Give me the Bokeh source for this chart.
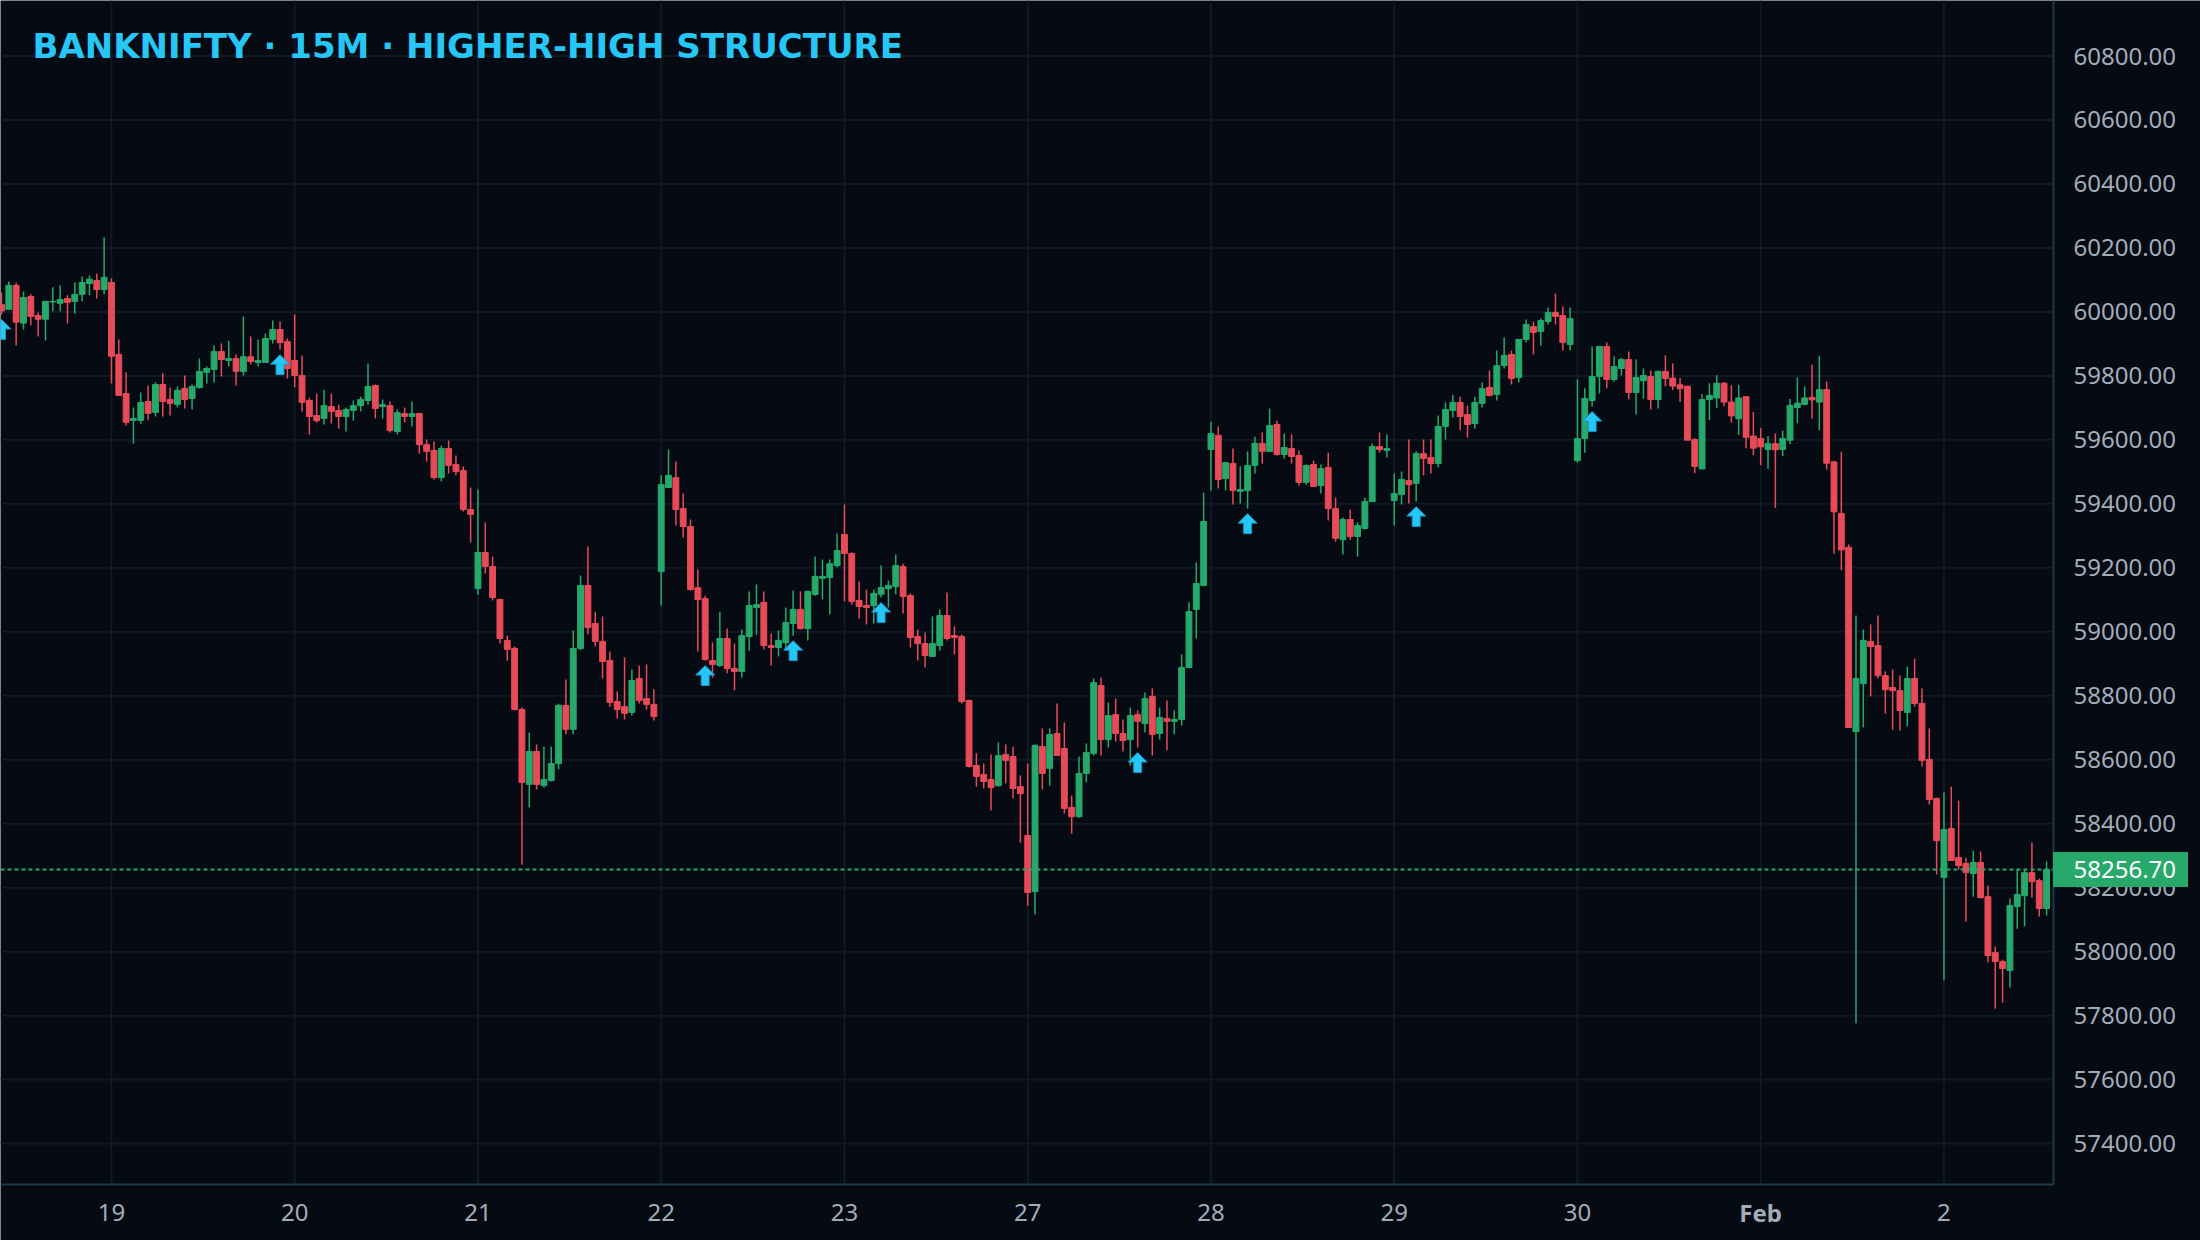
import numpy as np
from bokeh.plotting import figure
from bokeh.models import Range1d, Span, Label, ColumnDataSource
from bokeh.core.properties import value
from bokeh.embed import file_html
from bokeh.resources import INLINE

# ---------------- data ----------------
day_labels = ["19", "20", "21", "22", "23", "27", "28", "29", "30", "Feb", "2"]
day_start_bars = [15, 40, 65, 90, 115, 140, 165, 190, 215, 240, 265]
price_ticks = [57400, 57600, 57800, 58000, 58200, 58400, 58600, 58800, 59000,
               59200, 59400, 59600, 59800, 60000, 60200, 60400, 60600, 60800]
signal_bars = [0, 38, 96, 108, 120, 155, 170, 193, 217]
last_price = 58256.70
title_text = "BANKNIFTY · 15M · HIGHER-HIGH STRUCTURE"

opens = [60023, 60008, 60083, 59965, 60048, 59989, 59977, 60031, 60027, 60042, 60033, 60055, 60089, 60098, 60070,
         60092, 59867, 59745, 59661, 59661, 59720, 59686, 59773, 59726, 59711, 59761, 59729, 59764, 59811, 59820,
         59876, 59848, 59854, 59814, 59860, 59842, 59842, 59914, 59945, 59907,
         59848, 59801, 59723, 59676, 59667, 59704, 59692, 59673, 59692, 59707, 59723, 59770, 59704, 59707, 59626,
         59682, 59673, 59682, 59585, 59567, 59482, 59573, 59523, 59504, 59382,
         59135, 59248, 59204, 59101, 58973, 58948, 58757, 58523, 58626, 58519, 58535, 58588, 58770, 58695, 58948,
         59145, 59026, 58970, 58910, 58782, 58766, 58748, 58854, 58791, 58773,
         59188, 59451, 59482, 59385, 59329, 59138, 59104, 58910, 58895, 58979, 58885, 58876, 58985, 59076, 59092,
         58957, 58951, 58966, 59026, 59070, 59010, 59117, 59167, 59170, 59207,
         59304, 59245, 59098, 59082, 59082, 59117, 59135, 59141, 59204, 59113, 58985, 58963, 58923, 58957, 59051,
         58988, 58985, 58785, 58582, 58554, 58538, 58519, 58616, 58610, 58516,
         58363, 58188, 58641, 58573, 58682, 58635, 58451, 58422, 58557, 58620, 58832, 58663, 58741, 58682, 58663,
         58741, 58713, 58798, 58682, 58729, 58720, 58726, 58888, 59070, 59145,
         59570, 59614, 59479, 59526, 59439, 59442, 59520, 59589, 59564, 59648, 59554, 59573, 59551, 59467, 59523,
         59457, 59514, 59385, 59288, 59351, 59298, 59323, 59407, 59579, 59567,
         59410, 59429, 59473, 59464, 59557, 59545, 59526, 59642, 59692, 59717, 59679, 59651, 59714, 59764, 59742,
         59832, 59867, 59795, 59914, 59954, 59939, 59970, 59998, 59989, 59898,
         59535, 59604, 59723, 59798, 59892, 59789, 59823, 59851, 59748, 59785, 59798, 59726, 59814, 59793, 59772,
         59768, 59601, 59509, 59726, 59731, 59777, 59718, 59666, 59735, 59612,
         59604, 59570, 59588, 59570, 59599, 59701, 59711, 59733, 59718, 59757, 59531, 59370, 59264, 58688, 58838,
         58970, 58957, 58863, 58826, 58816, 58748, 58854, 58776, 58601, 58479,
         58232, 58385, 58294, 58276, 58244, 58279, 58172, 57997, 57969, 57941, 58141, 58175, 58247, 58222, 58135]

highs = [60061, 60095, 60092, 60064, 60055, 59998, 60033, 60077, 60083, 60052, 60092, 60111, 60114, 60120, 60233,
         60105, 59914, 59811, 59701, 59748, 59770, 59780, 59808, 59764, 59767, 59801, 59773, 59854, 59829, 59895,
         59901, 59910, 59867, 59986, 59923, 59914, 59932, 59973, 59970, 59917,
         59992, 59864, 59732, 59745, 59757, 59745, 59710, 59701, 59723, 59735, 59839, 59773, 59726, 59720, 59695,
         59701, 59720, 59685, 59601, 59595, 59582, 59598, 59551, 59517, 59451,
         59445, 59342, 59235, 59104, 58988, 58954, 58763, 58685, 58648, 58641, 58641, 58775, 58851, 59004, 59176,
         59267, 59063, 59048, 58938, 58813, 58920, 58882, 58895, 58898, 58820,
         59489, 59570, 59532, 59432, 59351, 59195, 59113, 58967, 59063, 59010, 58963, 59007, 59126, 59148, 59126,
         58995, 59004, 59076, 59129, 59126, 59129, 59235, 59226, 59226, 59307,
         59398, 59248, 59157, 59132, 59132, 59207, 59160, 59242, 59213, 59120, 59007, 58998, 59048, 59070, 59123,
         59017, 58991, 58788, 58620, 58588, 58616, 58654, 58648, 58641, 58551,
         58588, 58648, 58698, 58698, 58776, 58716, 58488, 58610, 58651, 58854, 58857, 58779, 58791, 58726, 58763,
         58754, 58810, 58823, 58763, 58785, 58754, 58929, 59092, 59217, 59435,
         59657, 59642, 59529, 59573, 59517, 59564, 59610, 59623, 59698, 59660, 59620, 59617, 59567, 59523, 59535,
         59523, 59560, 59420, 59357, 59382, 59342, 59420, 59589, 59623, 59617,
         59495, 59501, 59601, 59564, 59601, 59601, 59676, 59717, 59740, 59735, 59707, 59735, 59779, 59817, 59879,
         59920, 59879, 59914, 59976, 59970, 59979, 60014, 60057, 60017, 60014,
         59789, 59761, 59892, 59892, 59904, 59861, 59857, 59876, 59851, 59823, 59817, 59817, 59864, 59839, 59793,
         59768, 59605, 59743, 59777, 59802, 59781, 59771, 59772, 59735, 59687,
         59637, 59612, 59620, 59629, 59728, 59795, 59767, 59835, 59863, 59782, 59535, 59563, 59273, 59051, 59007,
         59023, 59051, 58876, 58882, 58863, 58891, 58916, 58823, 58698, 58482,
         58498, 58516, 58472, 58294, 58316, 58313, 58207, 58016, 57975, 58166, 58257, 58257, 58341, 58229, 58282]

lows = [59992, 60008, 59895, 59945, 59958, 59923, 59911, 60002, 60002, 59964, 59995, 60033, 60052, 60042, 60055,
        59776, 59739, 59645, 59589, 59651, 59661, 59673, 59673, 59676, 59701, 59698, 59695, 59760, 59776, 59779,
        59798, 59829, 59770, 59801, 59836, 59829, 59842, 59901, 59882, 59792,
        59764, 59689, 59617, 59654, 59648, 59651, 59635, 59626, 59660, 59689, 59710, 59667, 59667, 59623, 59617,
        59654, 59642, 59557, 59532, 59476, 59470, 59495, 59489, 59376, 59279,
        59116, 59182, 59098, 58963, 58910, 58754, 58272, 58451, 58507, 58513, 58532, 58570, 58680, 58680, 58942,
        58992, 58954, 58854, 58766, 58729, 58726, 58738, 58776, 58757, 58723,
        59082, 59451, 59332, 59295, 59129, 58938, 58910, 58857, 58891, 58870, 58817, 58857, 58941, 58991, 58945,
        58895, 58923, 58941, 58988, 59007, 58973, 59113, 59101, 59054, 59201,
        59095, 59085, 59041, 59023, 59026, 59107, 59076, 59117, 59057, 58951, 58910, 58888, 58923, 58941, 58973,
        58929, 58776, 58576, 58516, 58510, 58441, 58516, 58526, 58479, 58341,
        58144, 58116, 58507, 58519, 58613, 58432, 58369, 58419, 58529, 58613, 58613, 58638, 58657, 58626, 58582,
        58638, 58685, 58613, 58663, 58629, 58679, 58707, 58888, 58979, 59142,
        59442, 59448, 59442, 59398, 59401, 59385, 59495, 59526, 59564, 59551, 59542, 59526, 59457, 59460, 59454,
        59432, 59348, 59282, 59242, 59288, 59235, 59320, 59407, 59560, 59545,
        59332, 59398, 59401, 59407, 59489, 59495, 59514, 59601, 59670, 59630, 59607, 59635, 59701, 59736, 59723,
        59823, 59773, 59779, 59904, 59867, 59895, 59961, 59961, 59879, 59879,
        59529, 59560, 59704, 59745, 59761, 59782, 59801, 59726, 59679, 59729, 59695, 59698, 59767, 59756, 59718,
        59599, 59496, 59509, 59662, 59700, 59705, 59654, 59615, 59574, 59552,
        59521, 59510, 59387, 59549, 59587, 59652, 59708, 59666, 59630, 59507, 59244, 59193, 58701, 57776, 58701,
        58798, 58854, 58744, 58694, 58691, 58704, 58766, 58579, 58460, 58241,
        57910, 58285, 58257, 58094, 58172, 58166, 57966, 57822, 57841, 57888, 58072, 58079, 58169, 58110, 58113]

closes = [60003, 60083, 59968, 60045, 59986, 59977, 60033, 60033, 60039, 60030, 60055, 60092, 60102, 60070, 60108,
          59861, 59739, 59655, 59667, 59717, 59683, 59773, 59720, 59714, 59755, 59726, 59767, 59814, 59823, 59876,
          59851, 59854, 59814, 59860, 59845, 59848, 59917, 59945, 59904, 59823,
          59801, 59717, 59673, 59660, 59707, 59689, 59673, 59695, 59707, 59726, 59767, 59698, 59710, 59629, 59685,
          59673, 59682, 59585, 59564, 59482, 59573, 59520, 59501, 59382, 59367,
          59248, 59204, 59107, 58979, 58945, 58757, 58529, 58626, 58523, 58538, 58588, 58770, 58695, 58948, 59145,
          59013, 58970, 58907, 58779, 58757, 58745, 58848, 58785, 58773, 58735,
          59460, 59489, 59382, 59329, 59132, 59101, 58913, 58898, 58979, 58885, 58876, 58988, 59082, 59085, 58957,
          58951, 58973, 59029, 59070, 59010, 59126, 59173, 59173, 59213, 59254,
          59245, 59095, 59079, 59076, 59120, 59138, 59145, 59207, 59110, 58982, 58963, 58926, 58963, 59051, 58979,
          58982, 58782, 58579, 58548, 58532, 58513, 58613, 58598, 58510, 58494,
          58185, 58645, 58557, 58679, 58613, 58448, 58422, 58557, 58623, 58841, 58663, 58738, 58682, 58660, 58738,
          58720, 58791, 58679, 58732, 58720, 58726, 58888, 59063, 59151, 59345,
          59620, 59476, 59529, 59442, 59445, 59520, 59589, 59564, 59645, 59554, 59576, 59548, 59467, 59520, 59454,
          59510, 59385, 59292, 59351, 59298, 59332, 59407, 59579, 59570, 59573,
          59432, 59476, 59460, 59557, 59542, 59526, 59642, 59695, 59717, 59673, 59648, 59717, 59760, 59739, 59832,
          59864, 59792, 59914, 59961, 59936, 59973, 59998, 59986, 59904, 59979,
          59604, 59729, 59798, 59892, 59789, 59829, 59851, 59748, 59795, 59801, 59726, 59814, 59792, 59768, 59760,
          59599, 59517, 59726, 59739, 59777, 59718, 59675, 59731, 59608, 59574,
          59578, 59588, 59569, 59604, 59708, 59715, 59731, 59725, 59757, 59527, 59375, 59256, 58701, 58854, 58973,
          58954, 58863, 58819, 58816, 58754, 58854, 58776, 58598, 58476, 58347,
          58382, 58285, 58269, 58247, 58279, 58169, 57988, 57969, 57947, 58144, 58179, 58247, 58219, 58135, 58256.70]

# ---------------- geometry / style ----------------
W, H = 2200, 1240
PANE_R, PANE_B = 2053, 1184      # right / bottom edge of the price pane (pixels)
BAR0_PX, BAR_PX = 1.0, 7.33
PPX = 3400.0 / 1087.6            # price units per pixel
Y_TOP = 60800 + 55.5 * PPX


def px_x(px):
    return (px - BAR0_PX) / BAR_PX


def px_y(py):
    return Y_TOP - py * PPX


BG = "#060a13"
GRID = "#0f1a25"
BORDER = "#1b3b4b"
TXT = "#a3adba"
GREEN = "#26a96b"
RED = "#e84b58"
CYAN = "#26c6f6"
FONT = "Noto Sans"

p = figure(width=W, height=H, x_range=Range1d(px_x(0), px_x(W)), y_range=Range1d(px_y(H), px_y(0)),
           output_backend="svg", toolbar_location=None, x_axis_location=None, y_axis_location=None,
           min_border=0)
p.background_fill_color = BG
p.border_fill_color = BG
p.outline_line_color = None
p.grid.visible = False

pane_left, pane_right = px_x(0), px_x(PANE_R)
pane_top, pane_bottom = px_y(0), px_y(PANE_B)

# grid
p.segment(x0=[pane_left] * len(price_ticks), y0=price_ticks, x1=[pane_right] * len(price_ticks),
          y1=price_ticks, line_color=GRID, line_width=2)
p.segment(x0=day_start_bars, y0=[pane_top] * len(day_start_bars), x1=day_start_bars,
          y1=[pane_bottom] * len(day_start_bars), line_color=GRID, line_width=2)

# candles
o = np.array(opens, dtype=float)
h = np.array(highs, dtype=float)
l = np.array(lows, dtype=float)
c = np.array(closes, dtype=float)
xs = np.arange(len(o))
cols = [GREEN if cc >= oo else RED for oo, cc in zip(o, c)]
src = ColumnDataSource(dict(x=xs, o=o, h=h, l=l, c=c, top=np.maximum(o, c),
                            bottom=np.minimum(o, c), color=cols))
p.segment(x0="x", y0="h", x1="x", y1="l", source=src, line_color="color", line_width=1.5)
p.vbar(x="x", width=0.8, top="top", bottom="bottom", source=src, fill_color="color",
       line_color="color", line_width=1)

# last price line (inside the pane only)
p.segment(x0=[pane_left], y0=[last_price], x1=[pane_right], y1=[last_price],
          line_color=GREEN, line_dash="4 3", line_width=2)

# signal arrows (shape in pixels relative to tip, y downwards)
shape = [(0, 0), (9.5, 9.5), (4, 9.5), (4, 20), (-4, 20), (-4, 9.5), (-9.5, 9.5)]
axs, ays = [], []
for b in signal_bars:
    tip = l[b] - 5 * PPX
    axs.append([b + dx / BAR_PX for dx, dy in shape])
    ays.append([tip - dy * PPX for dx, dy in shape])
p.patches(axs, ays, fill_color=CYAN, line_color="#1a93c4", line_width=1)

# pane borders (price scale edge and time scale edge)
p.segment(x0=[pane_right, pane_left], y0=[pane_top, pane_bottom], x1=[pane_right, pane_right],
          y1=[pane_bottom, pane_bottom], line_color=BORDER, line_width=2)

# price scale labels
p.text(x=[px_x(PANE_R + 20)] * len(price_ticks), y=price_ticks,
       text=[f"{v:.2f}" for v in price_ticks], text_color=TXT, text_font=value(FONT),
       text_font_size="24px", text_baseline="middle", text_align="left")

# time scale labels (month names bold)
normal_days = [(b, t) for b, t in zip(day_start_bars, day_labels) if t.isdigit()]
month_days = [(b, t) for b, t in zip(day_start_bars, day_labels) if not t.isdigit()]
p.text(x=[b for b, t in normal_days], y=[px_y(1212)] * len(normal_days),
       text=[t for b, t in normal_days], text_color=TXT, text_font=value(FONT),
       text_font_size="24px", text_baseline="middle", text_align="center")
p.text(x=[b for b, t in month_days], y=[px_y(1212)] * len(month_days),
       text=[t for b, t in month_days], text_color=TXT, text_font=value(FONT),
       text_font_style="bold", text_font_size="24px", text_baseline="middle", text_align="center")

# last price tag
p.quad(left=[pane_right], right=[px_x(2187)], top=[last_price + 17 * PPX],
       bottom=[last_price - 17 * PPX], fill_color=GREEN, line_color=GREEN)
p.text(x=[px_x(PANE_R + 20)], y=[last_price], text=[f"{last_price:.2f}"], text_color="white",
       text_font=value(FONT), text_font_size="24px", text_baseline="middle", text_align="left")

# title
p.add_layout(Label(x=px_x(32), y=px_y(45), text=title_text, text_color=CYAN,
                   text_font="DejaVu Sans", text_font_style="bold", text_font_size="34px",
                   text_baseline="middle", text_align="left"))

open("out.html", "w").write(file_html(p, INLINE))
